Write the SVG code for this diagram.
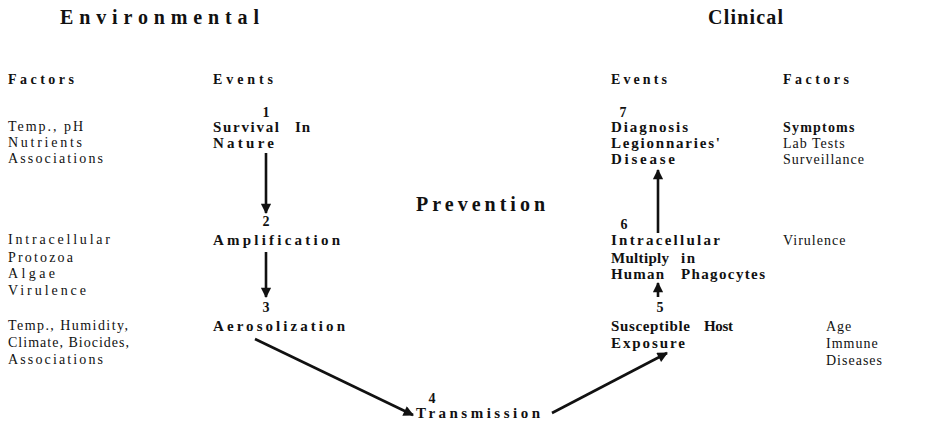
<svg xmlns="http://www.w3.org/2000/svg" width="931" height="424" viewBox="0 0 931 424">
<style>
text{font-family:"Liberation Serif","Times New Roman",serif;fill:#111}
.t{font-size:20px;font-weight:bold}
.hd{font-size:14px;font-weight:bold}
.ev{font-size:15px;font-weight:bold}
.fa{font-size:14px}
.fr{font-size:14px;letter-spacing:1px}
.fb{font-size:14px;font-weight:bold;letter-spacing:1.2px}
.n{font-size:14px;font-weight:bold;text-anchor:middle}
.c{stroke:#111;stroke-width:2.6;fill:none}
</style>
<defs>
<marker id="ah" viewBox="0 0 10 10" refX="9" refY="5" markerWidth="4.5" markerHeight="4" markerUnits="strokeWidth" orient="auto">
<path d="M0,0 L10,5 L0,10 z" fill="#111"/>
</marker>
</defs>
<rect width="931" height="424" fill="#fff"/>
<g id="titles">
<text class="t" x="60" y="24" textLength="199" lengthAdjust="spacing">Environmental</text>
<text class="t" x="708" y="24" textLength="75" lengthAdjust="spacing">Clinical</text>
<text class="t" x="416" y="211" textLength="129" lengthAdjust="spacing">Prevention</text>
<text class="hd" x="8" y="84" textLength="66" lengthAdjust="spacing">Factors</text>
<text class="hd" x="213" y="84" textLength="60" lengthAdjust="spacing">Events</text>
<text class="hd" x="611" y="84" textLength="56" lengthAdjust="spacing">Events</text>
<text class="hd" x="783" y="84" textLength="66" lengthAdjust="spacing">Factors</text>
</g>
<g id="env-factors-1">
<text class="fa" x="8" y="131" textLength="75" lengthAdjust="spacing">Temp., pH</text>
<text class="fa" x="8" y="147" textLength="74" lengthAdjust="spacing">Nutrients</text>
<text class="fa" x="8" y="163" textLength="95" lengthAdjust="spacing">Associations</text>
</g>
<g id="env-factors-2">
<text class="fa" x="8" y="244" textLength="102" lengthAdjust="spacing">Intracellular</text>
<text class="fa" x="8" y="262" textLength="65" lengthAdjust="spacing">Protozoa</text>
<text class="fa" x="8" y="278" textLength="47" lengthAdjust="spacing">Algae</text>
<text class="fa" x="8" y="295" textLength="78" lengthAdjust="spacing">Virulence</text>
</g>
<g id="env-factors-3">
<text class="fa" x="8" y="330" textLength="120" lengthAdjust="spacing">Temp., Humidity,</text>
<text class="fa" x="8" y="347" textLength="121" lengthAdjust="spacing">Climate, Biocides,</text>
<text class="fa" x="8" y="364" textLength="95" lengthAdjust="spacing">Associations</text>
</g>
<g id="event-1">
<text class="n" x="266" y="117">1</text>
<text class="ev" x="213" y="132" textLength="66" lengthAdjust="spacing">Survival</text>
<text class="ev" x="295" y="132" textLength="15" lengthAdjust="spacing">In</text>
<text class="ev" x="213" y="148" textLength="61" lengthAdjust="spacing">Nature</text>
</g>
<g id="event-2">
<text class="n" x="266" y="226">2</text>
<text class="ev" x="213" y="245" textLength="127" lengthAdjust="spacing">Amplification</text>
</g>
<g id="event-3">
<text class="n" x="266" y="312">3</text>
<text class="ev" x="213" y="331" textLength="132" lengthAdjust="spacing">Aerosolization</text>
</g>
<g id="event-4">
<text class="n" x="432" y="403">4</text>
<text class="ev" x="416" y="418" textLength="124" lengthAdjust="spacing">Transmission</text>
</g>
<g id="event-5">
<text class="n" x="660" y="312">5</text>
<text class="ev" x="611" y="331" textLength="79" lengthAdjust="spacing">Susceptible</text>
<text class="ev" x="704" y="331" textLength="29" lengthAdjust="spacing">Host</text>
<text class="ev" x="611" y="348" textLength="74" lengthAdjust="spacing">Exposure</text>
</g>
<g id="event-6">
<text class="n" x="624" y="229">6</text>
<text class="ev" x="611" y="245" textLength="109" lengthAdjust="spacing">Intracellular</text>
<text class="ev" x="611" y="263" textLength="58" lengthAdjust="spacing">Multiply</text>
<text class="ev" x="681" y="263" textLength="14" lengthAdjust="spacing">in</text>
<text class="ev" x="611" y="279" textLength="53" lengthAdjust="spacing">Human</text>
<text class="ev" x="681" y="279" textLength="84" lengthAdjust="spacing">Phagocytes</text>
</g>
<g id="event-7">
<text class="n" x="623" y="117">7</text>
<text class="ev" x="611" y="132" textLength="77" lengthAdjust="spacing">Diagnosis</text>
<text class="ev" x="611" y="148" textLength="109" lengthAdjust="spacing">Legionnaries'</text>
<text class="ev" x="611" y="164" textLength="64" lengthAdjust="spacing">Disease</text>
</g>
<g id="clin-factors-7">
<text class="fb" x="783" y="132">Symptoms</text>
<text class="fr" x="783" y="148">Lab Tests</text>
<text class="fr" x="783" y="164">Surveillance</text>
</g>
<g id="clin-factors-6">
<text class="fr" x="783" y="245">Virulence</text>
</g>
<g id="clin-factors-5">
<text class="fr" x="826" y="331">Age</text>
<text class="fr" x="826" y="348">Immune</text>
<text class="fr" x="826" y="365">Diseases</text>
</g>
<g id="connectors">
<line class="c" x1="266" y1="153" x2="266" y2="213" marker-end="url(#ah)"/>
<line class="c" x1="266" y1="252" x2="266" y2="297" marker-end="url(#ah)"/>
<line class="c" x1="255" y1="339" x2="413" y2="415" marker-end="url(#ah)"/>
<line class="c" x1="552" y1="413" x2="667" y2="353" marker-end="url(#ah)"/>
<line class="c" x1="658" y1="297" x2="658" y2="283" marker-end="url(#ah)"/>
<line class="c" x1="658" y1="233" x2="658" y2="170" marker-end="url(#ah)"/>
</g>
</svg>
